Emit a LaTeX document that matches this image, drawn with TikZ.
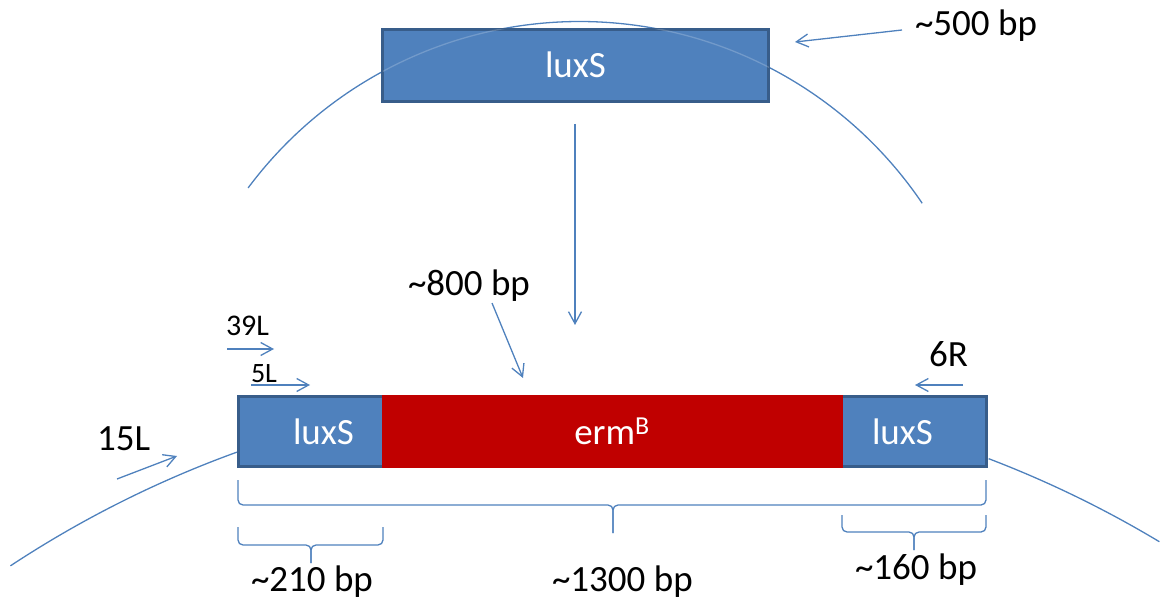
\documentclass[tikz,border=0pt]{standalone}
\usepackage{fontspec}
\setmainfont{Carlito}
\usetikzlibrary{arrows.meta}
\definecolor{boxblue}{HTML}{4F81BD}
\definecolor{boxedge}{HTML}{385D8A}
\definecolor{genered}{HTML}{C00000}
\definecolor{lineblue}{HTML}{4F81BD}
\newcommand\mybrace[6]{% x1 x2 top line tip bottom
  \draw[thinline, rounded corners=5pt] (#1,#3) -- (#1,#4) -- (#5,#4) -- (#5,#6);
  \draw[thinline, rounded corners=5pt] (#2,#3) -- (#2,#4) -- (#5,#4) -- (#5,#6);
}
\begin{document}
\begin{tikzpicture}[x=1pt,y=-1pt,
  every node/.style={inner sep=0pt, outer sep=0pt},
  big/.style={font=\fontsize{37}{42}\selectfont},
  small/.style={font=\fontsize{30}{34}\selectfont},
  smaller/.style={font=\fontsize{28}{32}\selectfont},
  wtxt/.style={big, text=white},
  thinline/.style={draw=lineblue, line width=1.3pt},
  arr/.style={thinline, -{Straight Barb[length=12pt,width=13pt]}},
  genebox/.style={draw=boxedge, line width=3pt, fill=boxblue},
]
\useasboundingbox (0,0) rectangle (1162,601);

% plasmid / chromosome arcs
\draw[thinline] (579.7,435.1) ++(216.7:413.6) arc[start angle=216.7, end angle=325.9, radius=413.6];
\draw[thinline] (604,1466) ++(236.6:1078.3) arc[start angle=236.6, end angle=250.1, radius=1078.3];
\draw[thinline] (604,1466) ++(290.9:1078.3) arc[start angle=290.9, end angle=301.0, radius=1078.3];

% top gene box
\node[genebox, minimum width=386pt, minimum height=72pt] (topbox) at (575.75,65.5) {};
\begin{scope}
  \clip (topbox.south west) rectangle (topbox.north east);
  \draw[white, opacity=0.2, line width=1.3pt] (579.7,435.1) ++(216.7:413.6) arc[start angle=216.7, end angle=325.9, radius=413.6];
\end{scope}
\node[wtxt, anchor=base west] (toplux) at (545,78) {luxS};

% bottom construct
\node[genebox, minimum width=748pt, minimum height=70pt] (bar) at (612.5,431.5) {};
\node[fill=genered, minimum width=461pt, minimum height=73pt] (erm) at (612.5,431.5) {};
\node[wtxt, anchor=base west] (lluxS) at (293,444) {luxS};
\node[wtxt, anchor=base west] (rluxS) at (872,444) {luxS};
\node[wtxt, anchor=base] (ermtxt) at (612,444) {erm\textsuperscript{B}};

% labels
\node[big, anchor=base west] (t500) at (915,36) {\textasciitilde500 bp};
\node[big, anchor=base west] (t800) at (408,296) {\textasciitilde800 bp};
\node[small, anchor=base west] (t39) at (226,336) {39L};
\node[smaller, anchor=base west] (t5) at (251,383) {5L};
\node[big, anchor=base west] (t6) at (929,367) {6R};
\node[big, anchor=base west] (t15) at (97,450) {15L};
\node[big, anchor=base west] (t210) at (251,591) {\textasciitilde210 bp};
\node[big, anchor=base west] (t1300) at (552,591) {\textasciitilde1300 bp};
\node[big, anchor=base west] (t160) at (855,579) {\textasciitilde160 bp};

% arrow end points
\coordinate (a500s) at (902,30);   \coordinate (a500e) at (795,42);
\coordinate (vs) at (575,124);     \coordinate (ve) at (575,325);
\coordinate (a800s) at (492,303);  \coordinate (a800e) at (523,378);
\coordinate (a39s) at (227,349);   \coordinate (a39e) at (274,349);
\coordinate (a5s) at (251,385);    \coordinate (a5e) at (310,385);
\coordinate (a6s) at (963,385);    \coordinate (a6e) at (915,385);
\coordinate (a15s) at (117,479);   \coordinate (a15e) at (177,456);

\draw[arr] (a500s) -- (a500e);
\draw[arr] (vs) -- (ve);
\draw[arr] (a800s) -- (a800e);
\draw[arr] (a39s) -- (a39e);
\draw[arr] (a5s) -- (a5e);
\draw[arr] (a6s) -- (a6e);
\draw[arr] (a15s) -- (a15e);

% braces
\mybrace{238}{986}{480}{505}{613}{533}
\mybrace{238}{383}{527}{545}{311}{563}
\mybrace{842}{986}{515}{532}{914}{550}
\end{tikzpicture}
\end{document}
